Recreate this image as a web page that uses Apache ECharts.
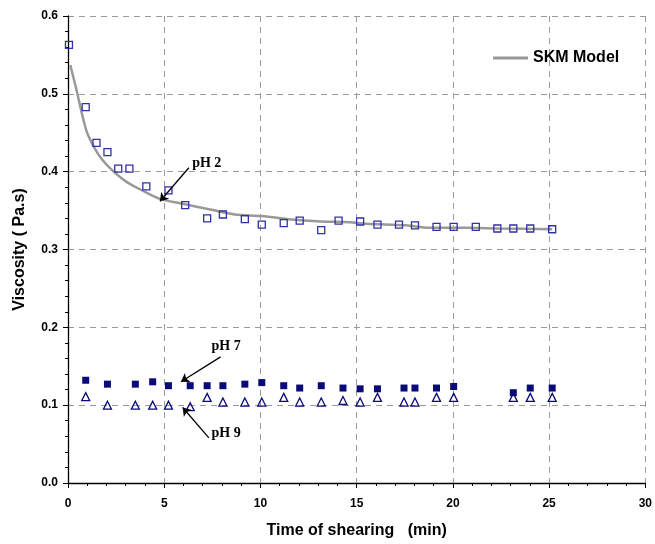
<!DOCTYPE html>
<html>
<head>
<meta charset="utf-8">
<script src="https://cdn.jsdelivr.net/npm/echarts@6/dist/echarts.min.js"></script>
<style>
  html, body { margin: 0; padding: 0; background: #fff; }
  #chart { width: 655px; height: 544px; }
</style>
</head>
<body>
<div id="chart"></div>
<script>
// Viscosity vs. shearing time at three pH levels, with the SKM model fit for pH 2
const ph2Data = [
  [0.05, 0.563], [0.92, 0.483], [1.48, 0.437], [2.05, 0.425], [2.61, 0.404],
  [3.19, 0.404], [4.07, 0.381], [5.22, 0.376], [6.09, 0.357], [7.23, 0.340],
  [8.05, 0.345], [9.19, 0.339], [10.07, 0.332], [11.21, 0.334], [12.04, 0.337],
  [13.16, 0.325], [14.06, 0.337], [15.18, 0.336], [16.08, 0.332], [17.20, 0.332],
  [18.03, 0.331], [19.15, 0.329], [20.04, 0.329], [21.19, 0.329], [22.31, 0.327],
  [23.14, 0.327], [24.02, 0.327], [25.16, 0.326]
];

const phTimes = [
  0.92, 2.05, 3.50, 4.40, 5.22, 6.35, 7.23, 8.05, 9.19, 10.07, 11.21, 12.04,
  13.16, 14.29, 15.18, 16.08, 17.46, 18.03, 19.15, 20.04, 23.14, 24.02, 25.16
];
const ph7Values = [
  0.132, 0.127, 0.127, 0.130, 0.125, 0.125, 0.125, 0.125, 0.127, 0.129, 0.125, 0.122,
  0.125, 0.122, 0.121, 0.121, 0.122, 0.122, 0.122, 0.124, 0.116, 0.122, 0.122
];
const ph9Values = [
  0.111, 0.100, 0.100, 0.100, 0.100, 0.098, 0.110, 0.104, 0.104, 0.104, 0.110, 0.104,
  0.104, 0.106, 0.104, 0.110, 0.104, 0.104, 0.110, 0.110, 0.110, 0.110, 0.110
];

const skmModel = [
  [0.12, 0.537], [0.47, 0.502], [0.73, 0.474], [1.04, 0.447], [1.76, 0.416],
  [2.92, 0.389], [4.00, 0.374], [4.78, 0.365], [5.91, 0.359], [7.46, 0.351],
  [8.67, 0.345], [10.05, 0.343], [11.43, 0.339], [13.16, 0.336], [14.63, 0.335],
  [15.49, 0.333], [17.56, 0.331], [18.77, 0.328], [20.67, 0.328], [22.40, 0.327],
  [25.16, 0.326]
];

// pointer annotations: label anchor and arrow (from -> to), in data units
const notes = [
  { text: 'pH 2', at: [6.45, 0.411], from: [6.28, 0.405], to: [4.78, 0.362] },
  { text: 'pH 7', at: [7.46, 0.176], from: [7.93, 0.162], to: [5.87, 0.130] },
  { text: 'pH 9', at: [7.46, 0.064], from: [7.32, 0.058], to: [5.96, 0.097] }
];

const ph7Data = phTimes.map((t, i) => [t, ph7Values[i]]);
const ph9Data = phTimes.map((t, i) => [t, ph9Values[i]]);

const labelFont = { fontFamily: 'Liberation Sans, Arial, sans-serif', fontWeight: 'bold', color: '#000' };
const gridDash = { color: '#9a9a9a', width: 1, type: [6, 5] };

const chart = echarts.init(document.getElementById('chart'), null, { renderer: 'canvas' });

chart.setOption({
  animation: false,
  backgroundColor: '#fff',
  grid: { left: 68, right: 8, top: 16, bottom: 60, containLabel: false },
  legend: {
    data: [{ name: 'SKM Model', icon: 'rect' }],
    left: 488, top: 45,
    itemWidth: 35, itemHeight: 3, itemGap: 4,
    textStyle: Object.assign({ fontSize: 16 }, labelFont)
  },
  xAxis: {
    type: 'value', min: 0, max: 30, interval: 5,
    name: 'Time of shearing   (min)',
    nameLocation: 'middle', nameGap: 40,
    nameTextStyle: Object.assign({ fontSize: 16 }, labelFont),
    axisLine: { show: true, lineStyle: { color: '#000', width: 1.3 } },
    axisTick: { show: true, length: 5, lineStyle: { color: '#000' } },
    minorTick: { show: true, splitNumber: 5, length: 3, lineStyle: { color: '#000' } },
    axisLabel: Object.assign({ fontSize: 12, margin: 15 }, labelFont),
    splitLine: { show: true, lineStyle: gridDash }
  },
  yAxis: {
    type: 'value', min: 0, max: 0.6, interval: 0.1,
    name: 'Viscosity ( Pa.s)',
    nameLocation: 'middle', nameGap: 40,
    nameTextStyle: Object.assign({ fontSize: 16 }, labelFont),
    axisLine: { show: true, lineStyle: { color: '#000', width: 1.3 } },
    axisTick: { show: true, length: 5, lineStyle: { color: '#000' } },
    minorTick: { show: true, splitNumber: 5, length: 3, lineStyle: { color: '#000' } },
    axisLabel: Object.assign({ fontSize: 12, margin: 10, formatter: v => v.toFixed(1) }, labelFont),
    splitLine: { show: true, lineStyle: gridDash }
  },
  series: [
    {
      name: 'SKM Model', type: 'line', data: skmModel,
      smooth: 0.3, symbol: 'none', showSymbol: false, z: 1,
      lineStyle: { color: '#999999', width: 2.5 },
      itemStyle: { color: '#999999' }
    },
    {
      name: 'pH 2', type: 'scatter', data: ph2Data,
      symbol: 'rect', symbolSize: 7, z: 3,
      itemStyle: { color: 'rgba(255,255,255,0)', borderColor: '#3030a8', borderWidth: 1.3, opacity: 1 }
    },
    {
      name: 'pH 7', type: 'scatter', data: ph7Data,
      symbol: 'rect', symbolSize: 7, z: 3,
      itemStyle: { color: '#0a0a78', opacity: 1 }
    },
    {
      name: 'pH 9', type: 'scatter', data: ph9Data,
      symbol: 'triangle', symbolSize: 8, z: 3,
      itemStyle: { color: 'rgba(255,255,255,0)', borderColor: '#0a0a78', borderWidth: 1.3, opacity: 1 }
    },
    {
      name: 'notes', type: 'scatter', data: [], z: 4, silent: true,
      markLine: {
        silent: true, animation: false,
        symbol: ['none', 'arrow'], symbolSize: 8,
        label: { show: false },
        lineStyle: { color: '#000', width: 1.3, type: 'solid', opacity: 1 },
        itemStyle: { color: '#000' },
        data: notes.map(n => [{ coord: n.from }, { coord: n.to }])
      },
      markPoint: {
        silent: true, animation: false,
        symbol: 'rect', symbolSize: 0,
        data: notes.map(n => ({
          coord: n.at,
          label: {
            show: true, formatter: n.text, position: 'right', distance: 0,
            fontFamily: 'Liberation Serif, Times New Roman, serif',
            fontWeight: 'bold', fontSize: 14, color: '#000'
          }
        }))
      }
    }
  ]
});
</script>
</body>
</html>
